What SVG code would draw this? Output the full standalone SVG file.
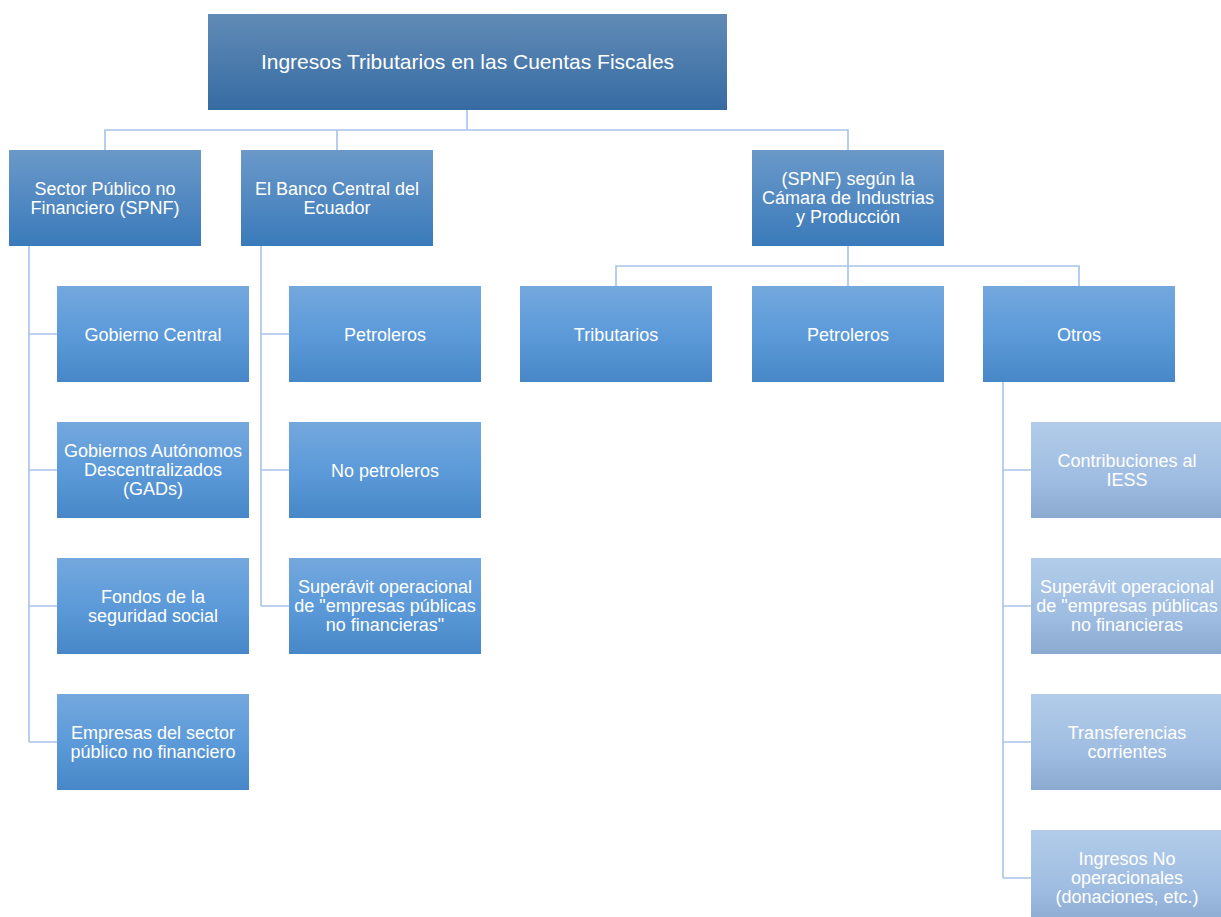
<svg xmlns="http://www.w3.org/2000/svg" width="1221" height="917" viewBox="0 0 1221 917">
<defs>
<linearGradient id="g0" x1="0" y1="0" x2="0" y2="1"><stop offset="0" stop-color="#618bb6"/><stop offset="1" stop-color="#366ba2"/></linearGradient>
<linearGradient id="g1" x1="0" y1="0" x2="0" y2="1"><stop offset="0" stop-color="#6b99c9"/><stop offset="1" stop-color="#3a7aba"/></linearGradient>
<linearGradient id="g2" x1="0" y1="0" x2="0" y2="1"><stop offset="0" stop-color="#74a8dd"/><stop offset="0.5" stop-color="#5c9ad9"/><stop offset="1" stop-color="#4887c7"/></linearGradient>
<linearGradient id="g3" x1="0" y1="0" x2="0" y2="1"><stop offset="0" stop-color="#b2cce9"/><stop offset="0.6" stop-color="#9fbde2"/><stop offset="1" stop-color="#8ca9d0"/></linearGradient>
</defs>
<style>
.c{fill:none;stroke:#a7c4e7;stroke-width:1.6}
.t{font-family:"Liberation Sans",Arial,sans-serif;font-size:18px;fill:#ffffff;text-anchor:middle}
.tt{font-family:"Liberation Sans",Arial,sans-serif;font-size:21px;fill:#ffffff;text-anchor:middle}
.l0{fill:url(#g0)}.l1{fill:url(#g1)}.l2{fill:url(#g2)}.l3{fill:url(#g3)}
</style>
<g id="connectors">
<path class="c" d="M467 110V130M105 150V130H848V150M337 130V150"/>
<path class="c" d="M29 246V742M29 334H57M29 470H57M29 606H57M29 742H57"/>
<path class="c" d="M261 246V606M261 334H289M261 470H289M261 606H289"/>
<path class="c" d="M848 246V266M616 286V266H1079V286M848 266V286"/>
<path class="c" d="M1003 382V878M1003 470H1031M1003 606H1031M1003 742H1031M1003 878H1031"/>
</g>
<g id="root"><rect class="l0" x="208" y="14" width="519" height="96"/><text class="tt" x="467.5" y="69">Ingresos Tributarios en las Cuentas Fiscales</text></g>
<g id="spnf"><rect class="l1" x="9" y="150" width="192" height="96"/><text class="t" x="105" y="194.5">Sector Público no</text><text class="t" x="105" y="213.5">Financiero (SPNF)</text></g>
<g id="bce"><rect class="l1" x="241" y="150" width="192" height="96"/><text class="t" x="337" y="194.5">El Banco Central del</text><text class="t" x="337" y="213.5">Ecuador</text></g>
<g id="camara"><rect class="l1" x="752" y="150" width="192" height="96"/><text class="t" x="848" y="185">(SPNF) según la</text><text class="t" x="848" y="204">Cámara de Industrias</text><text class="t" x="848" y="223">y Producción</text></g>
<g id="gobcentral"><rect class="l2" x="57" y="286" width="192" height="96"/><text class="t" x="153" y="340.5">Gobierno Central</text></g>
<g id="gads"><rect class="l2" x="57" y="422" width="192" height="96"/><text class="t" x="153" y="457">Gobiernos Autónomos</text><text class="t" x="153" y="476">Descentralizados</text><text class="t" x="153" y="495">(GADs)</text></g>
<g id="fondos"><rect class="l2" x="57" y="558" width="192" height="96"/><text class="t" x="153" y="602.5">Fondos de la</text><text class="t" x="153" y="621.5">seguridad social</text></g>
<g id="empresas"><rect class="l2" x="57" y="694" width="192" height="96"/><text class="t" x="153" y="738.5">Empresas del sector</text><text class="t" x="153" y="757.5">público no financiero</text></g>
<g id="petroleros1"><rect class="l2" x="289" y="286" width="192" height="96"/><text class="t" x="385" y="340.5">Petroleros</text></g>
<g id="nopetroleros"><rect class="l2" x="289" y="422" width="192" height="96"/><text class="t" x="385" y="476.5">No petroleros</text></g>
<g id="superavit1"><rect class="l2" x="289" y="558" width="192" height="96"/><text class="t" x="385" y="593">Superávit operacional</text><text class="t" x="385" y="612">de "empresas públicas</text><text class="t" x="385" y="631">no financieras"</text></g>
<g id="tributarios"><rect class="l2" x="520" y="286" width="192" height="96"/><text class="t" x="616" y="340.5">Tributarios</text></g>
<g id="petroleros2"><rect class="l2" x="752" y="286" width="192" height="96"/><text class="t" x="848" y="340.5">Petroleros</text></g>
<g id="otros"><rect class="l2" x="983" y="286" width="192" height="96"/><text class="t" x="1079" y="340.5">Otros</text></g>
<g id="iess"><rect class="l3" x="1031" y="422" width="192" height="96"/><text class="t" x="1127" y="466.5">Contribuciones al</text><text class="t" x="1127" y="485.5">IESS</text></g>
<g id="superavit2"><rect class="l3" x="1031" y="558" width="192" height="96"/><text class="t" x="1127" y="593">Superávit operacional</text><text class="t" x="1127" y="612">de "empresas públicas</text><text class="t" x="1127" y="631">no financieras</text></g>
<g id="transferencias"><rect class="l3" x="1031" y="694" width="192" height="96"/><text class="t" x="1127" y="738.5">Transferencias</text><text class="t" x="1127" y="757.5">corrientes</text></g>
<g id="ingresosno"><rect class="l3" x="1031" y="830" width="192" height="96"/><text class="t" x="1127" y="865">Ingresos No</text><text class="t" x="1127" y="884">operacionales</text><text class="t" x="1127" y="903">(donaciones, etc.)</text></g>
</svg>
